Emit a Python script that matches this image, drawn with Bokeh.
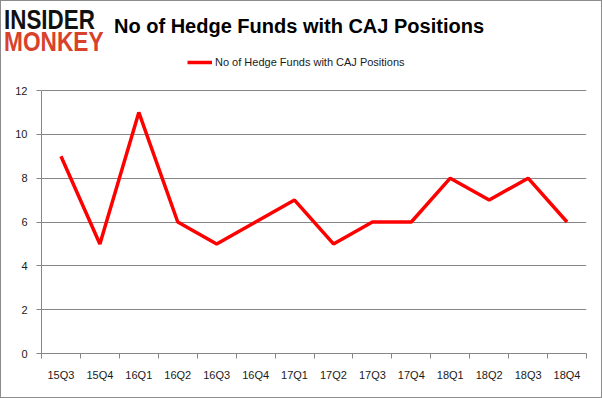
from bokeh.plotting import figure
from bokeh.models import FixedTicker, Legend, LegendItem, ColumnDataSource, Div
from bokeh.layouts import column
from bokeh.embed import file_html
from bokeh.resources import INLINE

quarters = ["15Q3", "15Q4", "16Q1", "16Q2", "16Q3", "16Q4", "17Q1",
            "17Q2", "17Q3", "17Q4", "18Q1", "18Q2", "18Q3", "18Q4"]
funds = [9, 5, 11, 6, 5, 6, 7, 5, 6, 6, 8, 7, 8, 6]
y_ticks = [0, 2, 4, 6, 8, 10, 12]
title_text = "No of Hedge Funds with CAJ Positions"
series_name = "No of Hedge Funds with CAJ Positions"
logo_top = "INSIDER"
logo_bottom = "MONKEY"

xpos = [i + 0.5 for i in range(len(quarters))]
src = ColumnDataSource(dict(x=xpos, y=funds))

FONT = "Liberation Sans"
GRID = "#868686"
TXT = "#1a1a1a"

# ---- header (logo + title) ----
span = ("position:absolute;display:block;overflow:visible;left:{x}px;top:{y}px;"
        "height:{l}px;font-family:'Liberation Sans';"
        "font-weight:bold;font-size:{s}px;line-height:{l}px;white-space:nowrap;"
        "color:{c};transform:scaleX({k});transform-origin:0 0;")
header_html = (
    '<div style="position:relative;width:600px;height:52px;overflow:visible;">'
    + '<div style="' + span.format(x=3, y=8, s=28, l=21, c="#111111", k=0.8) + '">'
    + logo_top + '</div>'
    + '<div style="' + span.format(x=3, y=30, s=28, l=21, c="#d9412b", k=0.81) + '">'
    + logo_bottom + '</div>'
    + '<div style="' + span.format(x=113, y=15, s=20, l=20, c="#000000", k=1) + '">'
    + title_text + '</div>'
    + '</div>'
)
header = Div(text=header_html, width=600, height=52, margin=0)

# ---- chart ----
FRAME_PX = 300            # frame height in px
Y_PER_PX = 12 / 263       # 0..12 spans 263 px in the reference
p = figure(width=600, height=344, output_backend="svg", toolbar_location=None,
           x_range=(0, len(quarters)), y_range=(0, FRAME_PX * Y_PER_PX),
           min_border_left=40, min_border_right=15, min_border_top=0, min_border_bottom=44,
           margin=0)
p.outline_line_color = None

r = p.line("x", "y", source=src, line_color="#ff0000", line_width=3.5)

# x axis: labels at category centres, ticks at category boundaries
p.xaxis.ticker = FixedTicker(ticks=xpos, minor_ticks=list(range(len(quarters) + 1)))
p.xaxis.major_label_overrides = {x: q for x, q in zip(xpos, quarters)}
p.xaxis.major_tick_line_color = None
p.xaxis.major_tick_out = 0
p.xaxis.major_tick_in = 0
p.xaxis.minor_tick_line_color = GRID
p.xaxis.minor_tick_line_width = 1
p.xaxis.minor_tick_out = 5
p.xaxis.minor_tick_in = 0
p.xaxis.axis_line_color = GRID
p.xaxis.major_label_standoff = 10
p.xaxis.major_label_text_font = FONT
p.xaxis.major_label_text_font_size = "11px"
p.xaxis.major_label_text_color = TXT
p.xgrid.grid_line_color = None

# y axis (line limited to 0..12)
p.yaxis.ticker = FixedTicker(ticks=y_ticks)
p.yaxis.bounds = (0, 12)
p.yaxis.minor_tick_line_color = None
p.yaxis.major_tick_line_color = GRID
p.yaxis.major_tick_out = 5
p.yaxis.major_tick_in = 0
p.yaxis.axis_line_color = GRID
p.yaxis.major_label_standoff = 9
p.yaxis.major_label_text_font = FONT
p.yaxis.major_label_text_font_size = "11px"
p.yaxis.major_label_text_color = TXT
p.ygrid.grid_line_color = GRID
p.ygrid.grid_line_width = 1

legend = Legend(items=[LegendItem(label=series_name, renderers=[r])],
                location=(146, 284), orientation="horizontal",
                padding=0, margin=0, spacing=0, glyph_width=25, glyph_height=14,
                label_height=14, label_standoff=3, border_line_color=None,
                background_fill_alpha=0, label_text_font=FONT,
                label_text_font_size="11px", label_text_color=TXT)
p.add_layout(legend, "center")

page = column(header, p, spacing=0, margin=0,
              styles={"border": "1px solid #8c8c8c", "background": "white"})

open("out.html", "w").write(file_html(page, INLINE))
